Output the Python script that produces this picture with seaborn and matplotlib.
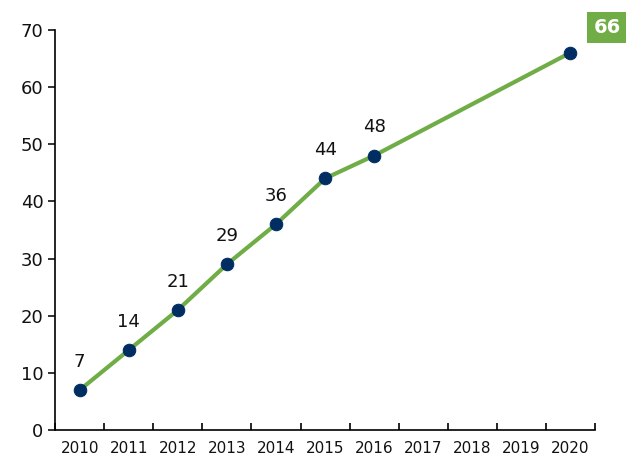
import numpy as np
import seaborn as sns
import matplotlib.pyplot as plt

# Data
years = [2010, 2011, 2012, 2013, 2014, 2015, 2016, 2020]
values = [7, 14, 21, 29, 36, 44, 48, 66]
axis_years = list(range(2010, 2021))

sns.set_style("white")
plt.rcParams["font.family"] = ["DejaVu Sans"]

fig = plt.figure(figsize=(6.27, 4.58), dpi=100)
ax = fig.add_axes([0.088, 0.061, 0.861, 0.874])

sns.lineplot(x=years, y=values, ax=ax, color="#70AD47", linewidth=3,
             marker="o", markersize=9, markerfacecolor="#002D62",
             markeredgecolor="#002D62")

# point labels (last one gets the green box)
for x, v in zip(years[:-1], values[:-1]):
    ax.annotate(str(v), (x, v), xytext=(0, 14), textcoords="offset points",
                ha="center", va="bottom", fontsize=13, color="#111111")

fig.text(0.968, 0.94, str(values[-1]), ha="center", va="center", fontsize=14,
         fontweight="bold", color="white",
         bbox=dict(boxstyle="square,pad=0.3", facecolor="#70AD47", edgecolor="none"))

ax.set_xlim(2009.5, 2020.5)
ax.set_ylim(0, 70)
ax.set_yticks(range(0, 71, 10))
ax.set_xticks(axis_years)
ax.set_xticklabels([str(y) for y in axis_years], fontsize=11)
ax.set_xticks(np.arange(2009.5, 2021, 1), minor=True)
ax.tick_params(axis="x", which="major", length=0, pad=8, colors="#111111")
ax.tick_params(axis="x", which="minor", bottom=True, direction="in", length=5,
               width=1.2, color="black")
ax.tick_params(axis="y", direction="out", length=5, width=1.2, labelsize=13,
               left=True, colors="#111111")

sns.despine(ax=ax)
for s in ["left", "bottom"]:
    ax.spines[s].set_color("black")
    ax.spines[s].set_linewidth(1.2)

fig.savefig("out.png", dpi=100)
